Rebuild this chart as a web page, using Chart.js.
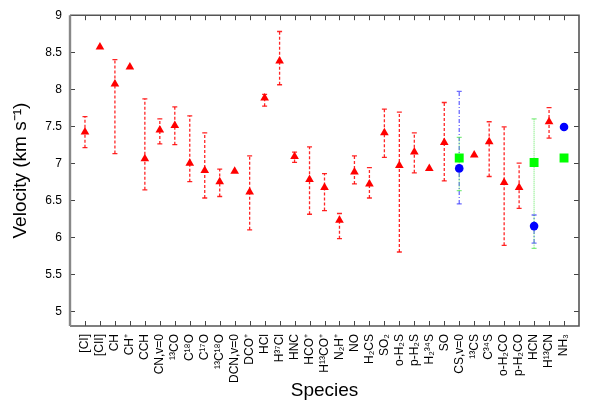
<!DOCTYPE html>
<html>
<head>
<meta charset="utf-8">
<script src="https://cdn.jsdelivr.net/npm/chart.js@4.4.1/dist/chart.umd.min.js"></script>
<style>
  body { margin: 0; background: #fff; }
  #wrap { width: 600px; height: 420px; }
</style>
</head>
<body>
<div id="wrap"><canvas id="velChart"></canvas></div>
<script>
// species along the x axis (position 1..33)
const species = [
  '[CI]', '[CII]', 'CH', 'CH⁺', 'CCH', 'CN,v=0', '¹³CO', 'C¹⁸O', 'C¹⁷O', '¹³C¹⁸O',
  'DCN,v=0', 'DCO⁺', 'HCl', 'H³⁷Cl', 'HNC', 'HCO⁺', 'H¹³CO⁺', 'N₂H⁺', 'NO', 'H₂CS',
  'SO₂', 'o-H₂S', 'p-H₂S', 'H₂³⁴S', 'SO', 'CS,v=0', '¹³CS', 'C³⁴S', 'o-H₂CO', 'p-H₂CO',
  'HCN', 'H¹³CN', 'NH₃'
];

// red triangles
const redVel = [
  7.42, 8.57, 8.07, 8.30, 7.06, 7.45, 7.51, 7.00, 6.90, 6.75,
  6.89, 6.61, 7.88, 8.38, 7.09, 6.78, 6.67, 6.23, 6.88, 6.72,
  7.41, 6.97, 7.15, 6.93, 7.28, null, 7.11, 7.29, 6.74, 6.67,
  null, 7.56, null
];
const redLow = [
  7.21, null, 7.13, null, 6.64, 7.26, 7.25, 6.75, 6.53, 6.55,
  null, 6.10, 7.77, 8.06, 7.01, 6.31, 6.36, 5.98, 6.72, 6.53,
  7.08, 5.80, 6.87, null, 6.76, null, null, 6.82, 5.89, 6.39,
  null, 7.34, null
];
const redHigh = [
  7.63, null, 8.40, null, 7.87, 7.60, 7.76, 7.64, 7.41, 6.92,
  null, 7.10, 7.93, 8.78, 7.15, 7.22, 6.86, 6.32, 7.10, 6.94,
  7.73, 7.69, 7.41, null, 7.82, null, null, 7.56, 7.49, 7.00,
  null, 7.75, null
];

// blue circles
const blueSpecies = ['CS,v=0', 'HCN', 'NH₃'];
const blueVel = [6.93, 6.15, 7.49];
const blueLow = [6.45, 5.92, null];
const blueHigh = [7.97, 6.30, null];

// green squares
const greenSpecies = ['CS,v=0', 'HCN', 'NH₃'];
const greenVel = [7.07, 7.01, 7.07];
const greenLow = [6.63, 5.85, null];
const greenHigh = [7.35, 7.60, null];

const yTicks = [5, 5.5, 6, 6.5, 7, 7.5, 8, 8.5, 9];

const FONT = "'Liberation Sans', Arial, Helvetica, sans-serif";

function points(names, vals) {
  const out = [];
  names.forEach((n, i) => {
    if (vals[i] !== null) out.push({ x: species.indexOf(n) + 1, y: vals[i], i: i });
  });
  return out;
}

const redPts = points(species, redVel);
const bluePts = points(blueSpecies, blueVel);
const greenPts = points(greenSpecies, greenVel);

// error bars drawn under the markers
const errorBars = {
  id: 'errorBars',
  beforeDatasetsDraw(chart) {
    const ctx = chart.ctx;
    const xs = chart.scales.x, ys = chart.scales.y;
    chart.data.datasets.forEach(ds => {
      ctx.save();
      ctx.strokeStyle = ds.errColor;
      ctx.lineWidth = 1.3;
      ds.data.forEach(p => {
        const lo = ds.errLow[p.i], hi = ds.errHigh[p.i];
        if (lo === null || hi === null) return;
        const px = xs.getPixelForValue(p.x);
        const y1 = ys.getPixelForValue(lo), y2 = ys.getPixelForValue(hi);
        ctx.setLineDash(ds.errDash);
        ctx.beginPath();
        ctx.moveTo(px, y1);
        ctx.lineTo(px, y2);
        ctx.stroke();
        ctx.setLineDash([]);
        ctx.beginPath();
        ctx.moveTo(px - 2.5, y1); ctx.lineTo(px + 2.5, y1);
        ctx.moveTo(px - 2.5, y2); ctx.lineTo(px + 2.5, y2);
        ctx.stroke();
      });
      ctx.restore();
    });
  }
};

// gnuplot-like frame with inward ticks on all four sides
const frame = {
  id: 'frame',
  afterDraw(chart) {
    const ctx = chart.ctx;
    const a = chart.chartArea;
    const xs = chart.scales.x, ys = chart.scales.y;
    ctx.save();
    ctx.strokeStyle = '#444';
    ctx.lineWidth = 1;
    ctx.beginPath();
    for (let v = 1; v <= species.length; v++) {
      const px = Math.round(xs.getPixelForValue(v)) + 0.5;
      ctx.moveTo(px, a.bottom); ctx.lineTo(px, a.bottom - 5);
      ctx.moveTo(px, a.top); ctx.lineTo(px, a.top + 5);
    }
    yTicks.forEach(v => {
      const py = Math.round(ys.getPixelForValue(v)) + 0.5;
      ctx.moveTo(a.left, py); ctx.lineTo(a.left + 5, py);
      ctx.moveTo(a.right, py); ctx.lineTo(a.right - 5, py);
    });
    ctx.stroke();
    ctx.lineWidth = 1.6;
    ctx.strokeStyle = '#555';
    ctx.beginPath();
    ctx.moveTo(a.left, a.bottom);
    ctx.lineTo(a.right, a.bottom);
    ctx.lineTo(a.right, a.top);
    ctx.lineTo(a.left, a.top);
    ctx.stroke();
    ctx.lineWidth = 2.4;
    ctx.strokeStyle = '#888';
    ctx.beginPath();
    ctx.moveTo(a.left, a.top);
    ctx.lineTo(a.left, a.bottom);
    ctx.stroke();
    ctx.restore();
  }
};

new Chart(document.getElementById('velChart').getContext('2d'), {
  type: 'scatter',
  data: {
    datasets: [
      {
        label: 'red',
        data: redPts,
        errLow: redLow, errHigh: redHigh,
        errColor: 'rgba(255,0,0,0.85)', errDash: [3, 2],
        pointStyle: 'triangle', pointRadius: 5,
        backgroundColor: '#ff0000', borderColor: '#ff0000', borderWidth: 0
      },
      {
        label: 'blue',
        data: bluePts,
        errLow: blueLow, errHigh: blueHigh,
        errColor: 'rgba(60,60,255,0.75)', errDash: [4, 2, 1, 2],
        pointStyle: 'circle', pointRadius: 4.3,
        backgroundColor: '#0000ff', borderColor: '#0000ff', borderWidth: 0
      },
      {
        label: 'green',
        data: greenPts,
        errLow: greenLow, errHigh: greenHigh,
        errColor: 'rgba(80,230,80,0.7)', errDash: [1, 1],
        pointStyle: 'rect', pointRadius: 6.3,
        backgroundColor: '#00ff00', borderColor: '#00ff00', borderWidth: 0
      }
    ]
  },
  options: {
    responsive: true,
    maintainAspectRatio: false,
    animation: false,
    layout: { padding: { top: 14, right: 21, left: 0, bottom: 0 } },
    plugins: {
      legend: { display: false },
      tooltip: { enabled: false }
    },
    scales: {
      x: {
        type: 'linear',
        min: 0,
        max: species.length + 1,
        afterFit(s) { s.height = 94; },
        afterBuildTicks(s) {
          s.ticks = [];
          for (let v = 1; v <= species.length; v++) s.ticks.push({ value: v });
        },
        ticks: {
          autoSkip: false,
          maxRotation: 90,
          minRotation: 90,
          padding: 8,
          color: '#000',
          font: { family: FONT, size: 12 },
          callback: v => species[v - 1] || ''
        },
        grid: { display: false, drawTicks: false },
        border: { display: false },
        title: {
          display: true,
          text: 'Species',
          color: '#000',
          font: { family: FONT, size: 19 },
          padding: { top: 0, bottom: 18 }
        }
      },
      y: {
        min: 4.8,
        max: 9,
        afterFit(s) { s.width = 70; },
        afterBuildTicks(s) {
          s.ticks = yTicks.map(v => ({ value: v }));
        },
        ticks: {
          padding: 8,
          color: '#000',
          font: { family: FONT, size: 12 },
          callback: v => String(v)
        },
        grid: { display: false, drawTicks: false },
        border: { display: false },
        title: {
          display: true,
          text: 'Velocity (km s⁻¹)',
          color: '#000',
          font: { family: FONT, size: 19 },
          padding: { top: 9, bottom: 0 }
        }
      }
    }
  },
  plugins: [errorBars, frame]
});
</script>
</body>
</html>
